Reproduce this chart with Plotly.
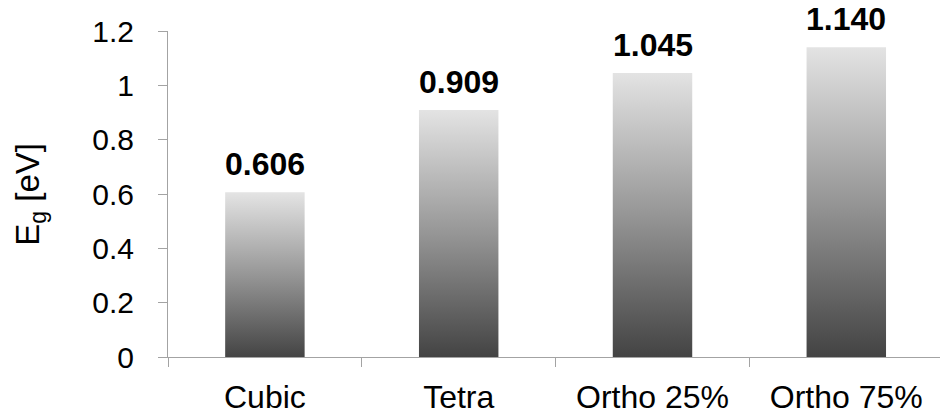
import plotly.graph_objects as go

# Band gap of each structural phase
phases = ["Cubic", "Tetra", "Ortho 25%", "Ortho 75%"]
band_gap = [0.606, 0.909, 1.045, 1.140]

y_ticks = [0, 0.2, 0.4, 0.6, 0.8, 1.0, 1.2]
y_tick_text = ["0", "0.2", "0.4", "0.6", "0.8", "1", "1.2"]

AXIS_GREY = "#a3a3a3"
FONT = "Liberation Sans, Arial, sans-serif"
BAR_WIDTH = 0.41
SHADE = [[0.0, "#424242"], [0.5, "#959595"], [1.0, "#e3e3e3"]]

fig = go.Figure()

# Each bar is a filled rectangle with a dark-to-light vertical gradient
for i, (name, v) in enumerate(zip(phases, band_gap)):
    x0, x1 = i - BAR_WIDTH / 2, i + BAR_WIDTH / 2
    fig.add_trace(go.Scatter(
        x=[x0, x0, x1, x1, x0],
        y=[0, v, v, 0, 0],
        mode="lines",
        fill="toself",
        line=dict(width=0, color="rgba(0,0,0,0)"),
        fillgradient=dict(type="vertical", colorscale=SHADE, start=0, stop=v),
        hoverinfo="skip",
        showlegend=False,
        name=name,
    ))
    fig.add_annotation(
        x=i, y=v, text=f"<b>{v:.3f}</b>",
        showarrow=False, yanchor="bottom", yshift=8,
        font=dict(family=FONT, size=32, color="black"),
    )

# Y-axis title (rotated)
fig.add_annotation(
    xref="paper", yref="paper", x=-0.179, y=0.5,
    text="E<sub>g</sub> [eV]", textangle=-90, showarrow=False,
    xanchor="center", yanchor="middle",
    font=dict(family=FONT, size=33, color="black"),
)

fig.update_layout(
    width=940, height=415,
    margin=dict(l=168, r=0, t=31, b=56),
    plot_bgcolor="white", paper_bgcolor="white",
    font=dict(family=FONT, color="black"),
    showlegend=False,
)

fig.update_xaxes(
    range=[-0.5, -0.5 + 772 / 193.8],
    tickmode="array", tickvals=list(range(len(phases))), ticktext=phases,
    ticks="", showgrid=False, zeroline=False,
    showline=True, linecolor=AXIS_GREY, linewidth=1,
    tickfont=dict(family=FONT, size=32, color="black"),
    ticklabelstandoff=12,
    minor=dict(tickmode="array", tickvals=[-0.5, 0.5, 1.5, 2.5, 3.5],
               ticks="outside", ticklen=9, tickcolor=AXIS_GREY, tickwidth=1,
               showgrid=False),
)

fig.update_yaxes(
    range=[0, 1.2],
    tickmode="array", tickvals=y_ticks, ticktext=y_tick_text,
    ticks="outside", ticklen=9, tickcolor=AXIS_GREY, tickwidth=1,
    showgrid=False, zeroline=False,
    showline=True, linecolor=AXIS_GREY, linewidth=1,
    tickfont=dict(family=FONT, size=30, color="black"),
    ticklabelstandoff=18,
)

fig.write_html("out.html")
